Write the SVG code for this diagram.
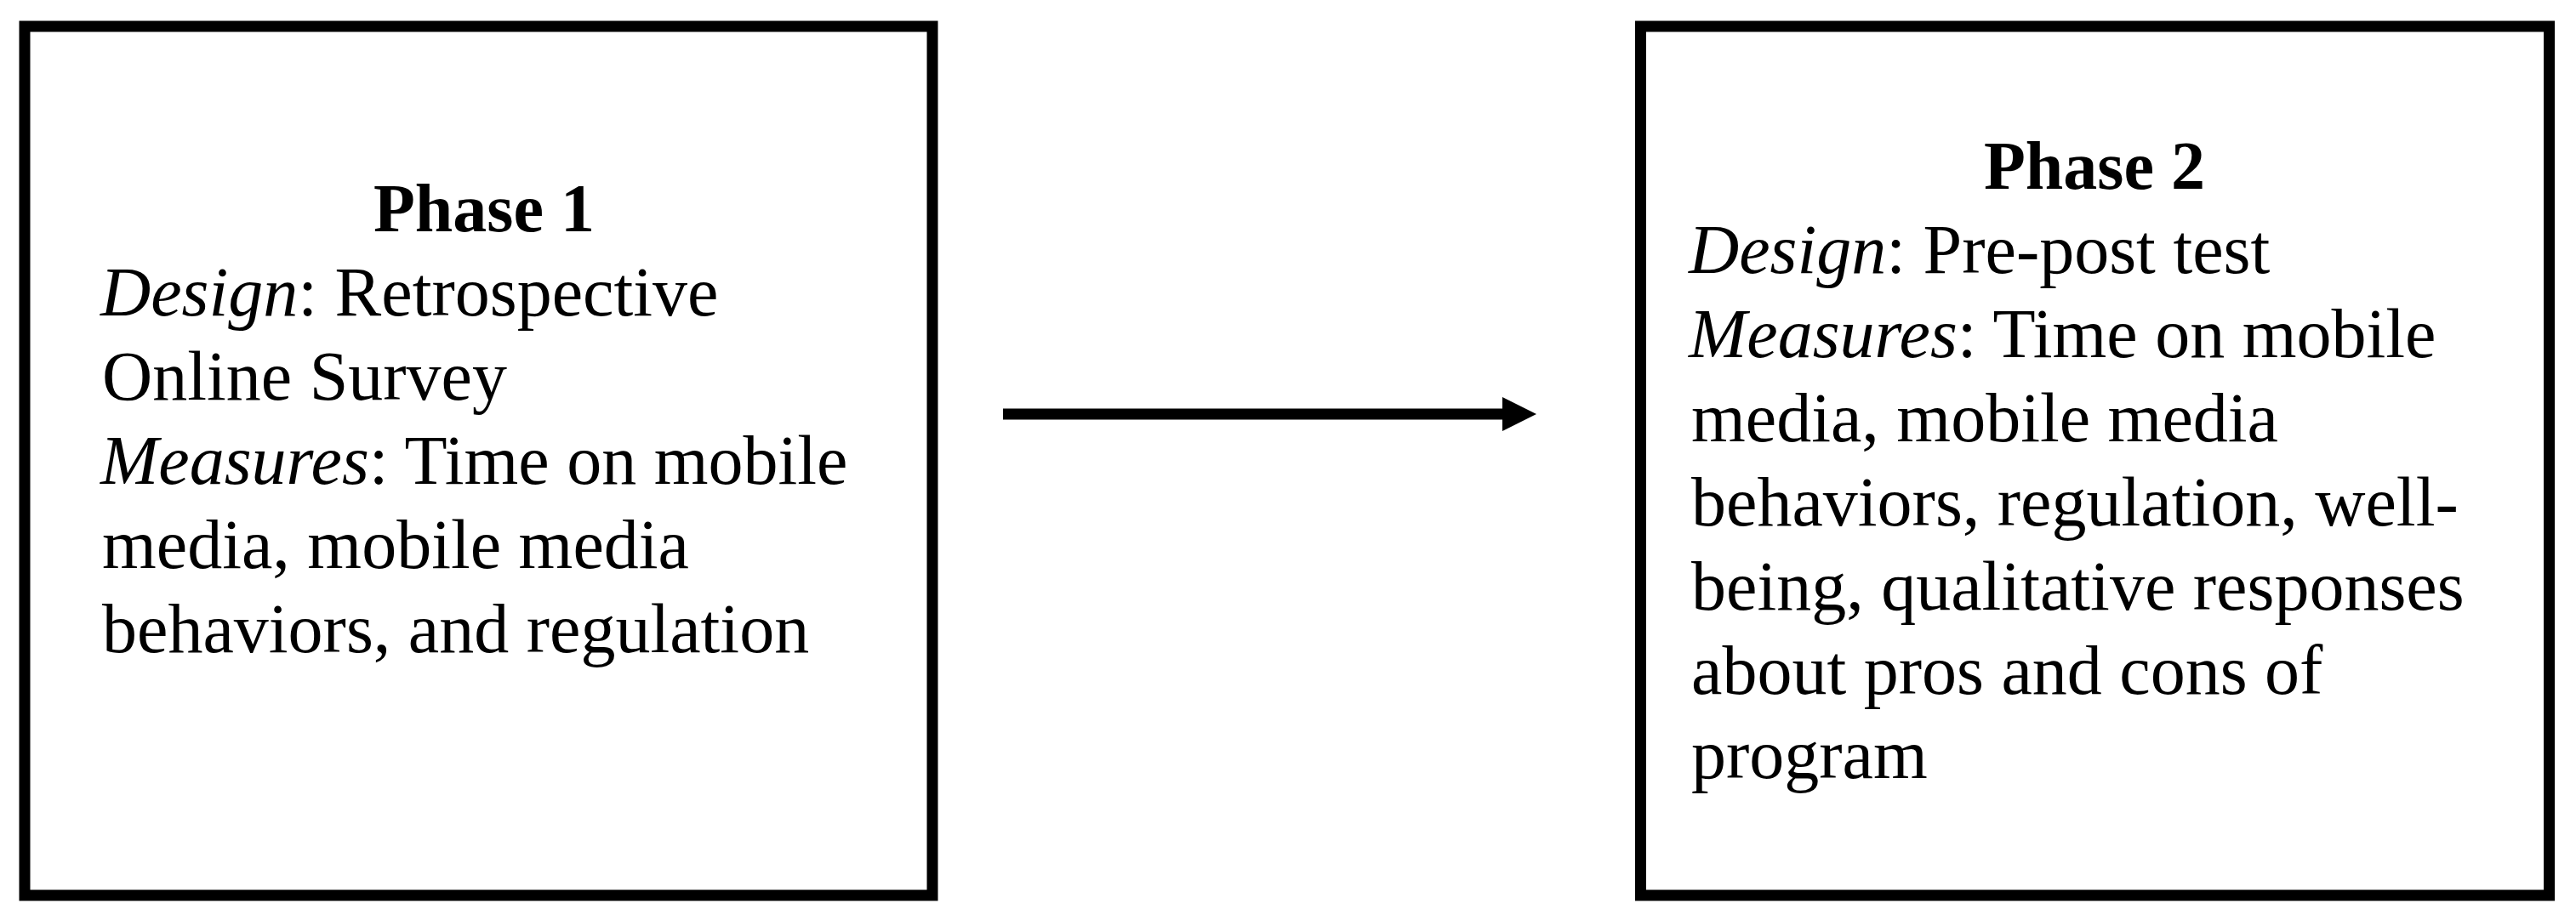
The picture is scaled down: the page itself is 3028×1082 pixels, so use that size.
<svg xmlns="http://www.w3.org/2000/svg" width="3028" height="1082" viewBox="0 0 3028 1082">
<style>
.box{fill:#fff;stroke:#000;stroke-width:13}
.t{font-family:"Liberation Serif","Times New Roman",serif;font-size:82px;fill:#000}
.h{font-family:"Liberation Serif","Times New Roman",serif;font-size:80px;font-weight:bold;fill:#000;text-anchor:middle}
.i{font-style:italic}
</style>
<defs>
<marker id="ah" markerUnits="userSpaceOnUse" markerWidth="40" markerHeight="40" refX="1" refY="20" orient="auto">
<path d="M0,0 L40,20 L0,40 Z" fill="#000"/>
</marker>
</defs>
<rect width="3028" height="1082" fill="#fff"/>
<g id="phase1">
<rect class="box" x="29" y="31" width="1067" height="1022"/>
<text class="h" x="569" y="272">Phase 1</text>
<text class="t" x="118" y="371"><tspan class="i">Design</tspan>: Retrospective</text>
<text class="t" x="120" y="470">Online Survey</text>
<text class="t" x="118" y="569"><tspan class="i">Measures</tspan>: Time on mobile</text>
<text class="t" x="120" y="668">media, mobile media</text>
<text class="t" x="120" y="767">behaviors, and regulation</text>
</g>
<g id="phase2">
<rect class="box" x="1928.5" y="31" width="1068" height="1022"/>
<text class="h" x="2462" y="222">Phase 2</text>
<text class="t" x="1985" y="321"><tspan class="i">Design</tspan>: Pre-post test</text>
<text class="t" x="1985" y="420"><tspan class="i">Measures</tspan>: Time on mobile</text>
<text class="t" x="1988" y="519">media, mobile media</text>
<text class="t" x="1988" y="618">behaviors, regulation, well-</text>
<text class="t" x="1988" y="717">being, qualitative responses</text>
<text class="t" x="1988" y="816">about pros and cons of</text>
<text class="t" x="1988" y="915">program</text>
</g>
<g id="connectors">
<line x1="1179" y1="487" x2="1767" y2="487" stroke="#000" stroke-width="13" marker-end="url(#ah)"/>
</g>
</svg>
